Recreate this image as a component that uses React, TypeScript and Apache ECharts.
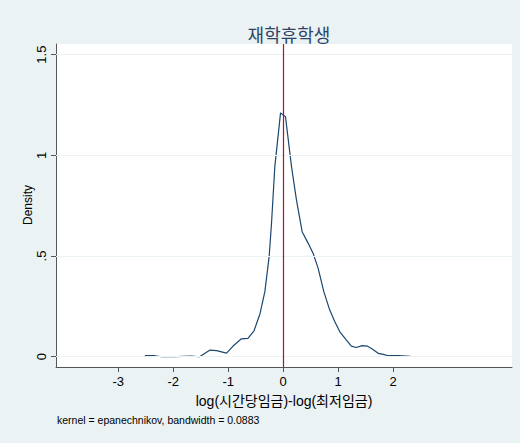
import React, { useEffect, useRef } from "react";
import * as echarts from "echarts";

const xValues = [-2.515, -2.33, -2.21, -2.0, -1.82, -1.67, -1.52, -1.33, -1.21, -1.03, -0.91, -0.76, -0.64, -0.53, -0.42, -0.333, -0.255, -0.212, -0.152, -0.048, 0.042, 0.152, 0.242, 0.345, 0.455, 0.545, 0.636, 0.739, 0.836, 0.939, 1.03, 1.15, 1.24, 1.33, 1.436, 1.527, 1.606, 1.727, 1.82, 1.91, 2.0, 2.09, 2.315];
const densityValues = [0.005, 0.005, 0.0, 0.0, 0.002, 0.003, 0.0, 0.033, 0.03, 0.018, 0.053, 0.089, 0.091, 0.129, 0.215, 0.323, 0.497, 0.662, 0.943, 1.211, 1.192, 0.943, 0.778, 0.621, 0.563, 0.513, 0.439, 0.323, 0.24, 0.174, 0.124, 0.083, 0.053, 0.046, 0.055, 0.053, 0.041, 0.017, 0.012, 0.005, 0.005, 0.005, 0.002];
const xTicks = [-3, -2, -1, 0, 1, 2];
const yTicks = [0, 0.5, 1, 1.5];
const yTickLabels = ["0", ".5", "1", "1.5"];
const refLineX = 0;

const titleText = "재학휴학생";
const xTitle = "log(시간당임금)-log(최저임금)";
const yTitle = "Density";
const noteText = "kernel = epanechnikov, bandwidth = 0.0883";

const FONT = "'Liberation Sans', Arial, 'Noto Sans CJK KR', sans-serif";

export default function App() {
  const ref = useRef<HTMLDivElement>(null);
  useEffect(() => {
    if (!ref.current) return;
    const chart = echarts.init(ref.current, undefined, { renderer: "svg" });
    const data = xValues.map((x, i) => [x, densityValues[i]]);
    chart.setOption({
      animation: false,
      backgroundColor: "#EAF2F3",
      textStyle: { fontFamily: FONT },
      title: {
        text: titleText,
        left: 284,
        textAlign: "center",
        top: 22,
        textStyle: { fontFamily: FONT, fontSize: 18, fontWeight: "normal", color: "#2E4466" },
      },
      grid: {
        left: 56,
        right: 8,
        top: 44,
        bottom: 76,
        show: true,
        backgroundColor: "#FFFFFF",
        borderWidth: 0,
      },
      xAxis: {
        type: "value",
        min: -4.13,
        max: 4.16,
        name: xTitle,
        nameLocation: "middle",
        nameGap: 27,
        nameTextStyle: { fontFamily: FONT, fontSize: 14, color: "#000" },
        axisLine: { show: true, onZero: false, lineStyle: { color: "#555", width: 1 } },
        axisTick: { show: true, length: 5, customValues: xTicks, lineStyle: { color: "#555" } },
        axisLabel: {
          customValues: xTicks,
          fontSize: 13,
          color: "#000",
          margin: 8,
          fontFamily: FONT,
          formatter: (v: number) => String(v),
        },
        splitLine: { show: false },
      },
      yAxis: {
        type: "value",
        min: -0.051,
        max: 1.553,
        axisLine: { show: true, onZero: false, lineStyle: { color: "#555", width: 1 } },
        axisTick: { show: true, length: 5, customValues: yTicks, lineStyle: { color: "#555" } },
        axisLabel: {
          customValues: yTicks,
          rotate: 90,
          fontSize: 13,
          color: "#000",
          margin: 8,
          fontFamily: FONT,
          formatter: (v: number) => {
            const i = yTicks.findIndex((t) => Math.abs(t - v) < 1e-6);
            return i >= 0 ? yTickLabels[i] : "";
          },
        },
        splitLine: { show: false },
      },
      series: [
        {
          type: "line",
          data: [],
          silent: true,
          z: 1,
          markLine: {
            silent: true,
            symbol: "none",
            label: { show: false },
            lineStyle: { color: "#EAF2F3", width: 1.2, type: "solid" },
            data: yTicks.map((t) => ({ yAxis: t })),
          },
        },
        {
          type: "line",
          data,
          showSymbol: false,
          symbol: "none",
          z: 3,
          lineStyle: { color: "#1A476F", width: 1.2 },
          markLine: {
            silent: true,
            symbol: "none",
            label: { show: false },
            lineStyle: { color: "#B0102C", width: 1.2, type: "solid" },
            data: [{ xAxis: refLineX }],
          },
        },
      ],
      graphic: [
        {
          type: "text",
          x: 28,
          y: 205,
          rotation: Math.PI / 2,
          style: {
            text: yTitle,
            fontFamily: FONT,
            fontSize: 12,
            fill: "#000",
            align: "center",
            verticalAlign: "middle",
          },
        },
        {
          type: "text",
          left: 57,
          top: 415,
          style: { text: noteText, fontFamily: FONT, fontSize: 10.5, fill: "#000" },
        },
      ],
    });
    return () => chart.dispose();
  }, []);
  return (
    <div
      ref={ref}
      style={{ position: "fixed", left: 0, top: 0, width: 520, height: 443 }}
    />
  );
}
